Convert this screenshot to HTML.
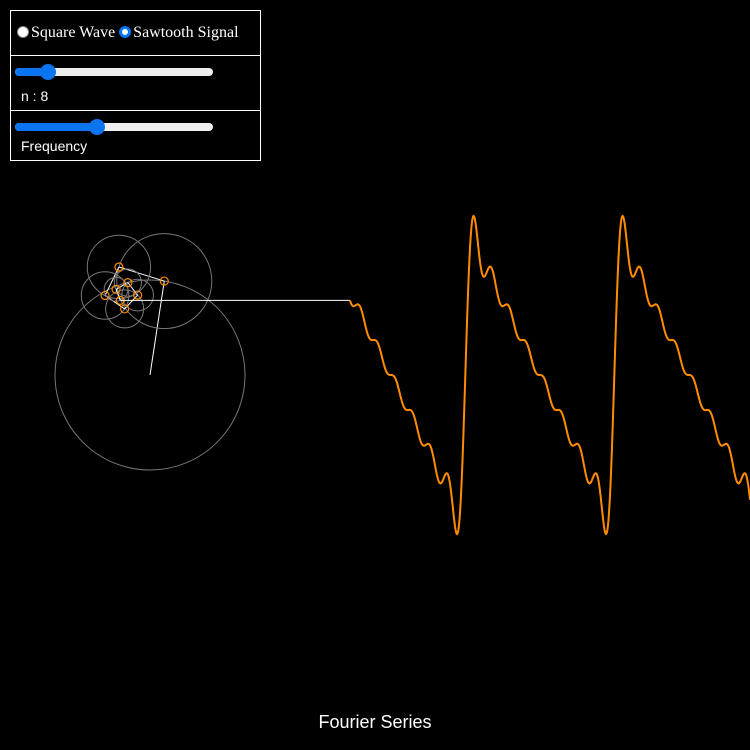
<!DOCTYPE html>
<html><head><meta charset="utf-8">
<style>
html,body{margin:0;padding:0;background:#000;width:750px;height:750px;overflow:hidden;font-family:"Liberation Sans",Arial,sans-serif;}
#panel{position:absolute;left:10px;top:10px;width:249px;height:149px;border:1px solid #fff;color:#fff;}
.row{position:absolute;left:0;width:249px;border-bottom:1px solid #fff;}
.radio-label{font-family:"Liberation Serif",serif;font-size:16px;}
.rad{display:inline-block;width:11px;height:11px;border-radius:50%;vertical-align:-1px;margin-right:2px;}
.track{position:absolute;height:8px;border-radius:4px;background:#efefef;left:4px;width:198px;}
.fill{position:absolute;height:8px;border-radius:4px;background:#0b74f0;left:0;top:0;}
.thumb{position:absolute;width:16px;height:16px;border-radius:50%;background:#0b74f0;top:-4px;}
#title{position:absolute;top:712px;left:0;width:750px;text-align:center;color:#fff;font-size:18px;}
</style></head><body>
<svg id="chart" width="750" height="750" style="position:absolute;left:0;top:0"></svg>
<div id="panel">
  <div class="row" style="top:0;height:44px;">
    <div style="position:absolute;left:6px;top:13px;white-space:nowrap;" class="radio-label">
      <span class="rad" style="background:#fff;border:1px solid #888;width:10px;height:10px"></span><span>Square Wave</span>
      <span class="rad" style="background:#fff;border:3px solid #0b74f0;width:6px;height:6px"></span><span>Sawtooth Signal</span>
    </div>
  </div>
  <div class="row" style="top:45px;height:54px;">
    <div class="track" style="top:12px"><div class="fill" style="width:34px"></div><div class="thumb" style="left:25px"></div></div>
    <div style="position:absolute;left:10px;top:32px;font-size:14px">n : 8</div>
  </div>
  <div class="row" style="top:100px;height:49px;border-bottom:none">
    <div class="track" style="top:12px"><div class="fill" style="width:84px"></div><div class="thumb" style="left:74px"></div></div>
    <div style="position:absolute;left:10px;top:27px;font-size:14px">Frequency</div>
  </div>
</div>
<div id="title">Fourier Series</div>
<script>
const nTerms = 8;
const baseRadius = [95];
const periodPx = [149];
const phaseNow = [1.42];
const NS='http://www.w3.org/2000/svg';
const svg=document.getElementById('chart');
function mk(t,a){const e=document.createElementNS(NS,t);for(const k in a)e.setAttribute(k,a[k]);svg.appendChild(e);return e;}
const cx=150, cy=375, waveX0=350;
const R=baseRadius[0], P=periodPx[0], ph0=phaseNow[0];
function offset(phi){let s=0;for(let k=1;k<=nTerms;k++)s+=R/k*Math.sin(k*phi);return s;}
let x=cx,y=cy;const joints=[];
for(let k=1;k<=nTerms;k++){
  const r=R/k;
  const c=mk('circle',{cx:x,cy:y,r:r,fill:'none',stroke:'#777','stroke-width':1});
  
  
  const nx=x+r*Math.cos(k*ph0), ny=y-r*Math.sin(k*ph0);
  const l=mk('line',{x1:x,y1:y,x2:nx,y2:ny,stroke:'#fff','stroke-width':1});
  
  
  x=nx;y=ny;joints.push([x,y]);
}
joints.forEach((p,i)=>{
  const j=mk('circle',{cx:p[0],cy:p[1],r:4,fill:'none',stroke:'#ff8c00','stroke-width':1.2});
  
  
});
const conn=mk('line',{x1:x,y1:y,x2:waveX0,y2:y,stroke:'#fff','stroke-width':1});


let d='';
for(let px=waveX0;px<=750;px+=0.5){
  const phi=ph0+2*Math.PI*(px-waveX0)/P;
  const py=cy-offset(phi);
  d+=(d?'L':'M')+px.toFixed(1)+','+py.toFixed(2);
}
const w=mk('path',{d:d,fill:'none',stroke:'#ff8c00','stroke-width':2});


</script>
</body></html>
